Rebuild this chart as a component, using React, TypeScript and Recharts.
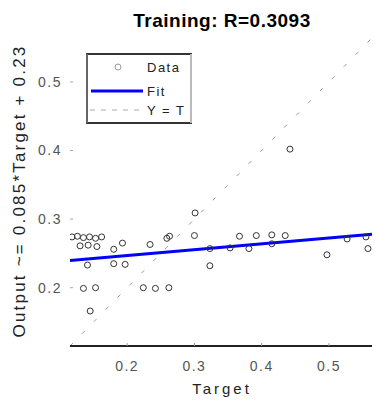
import { ComposedChart, Line, Scatter, XAxis, YAxis } from "recharts";

// regression scatter: target vs network output
const targets = [
  0.118, 0.126, 0.135, 0.144, 0.153, 0.162, 0.13, 0.142, 0.155, 0.193, 0.18,
  0.234, 0.259, 0.141, 0.18, 0.197, 0.135, 0.153, 0.224, 0.242, 0.262, 0.145,
  0.301, 0.263, 0.3, 0.367, 0.392, 0.415, 0.435, 0.323, 0.353, 0.381, 0.323,
  0.415, 0.527, 0.555, 0.558, 0.497, 0.442,
];
const outputs = [
  0.274, 0.275, 0.273, 0.274, 0.272, 0.274, 0.261, 0.262, 0.26, 0.265, 0.256,
  0.263, 0.272, 0.233, 0.235, 0.234, 0.199, 0.2, 0.2, 0.199, 0.2, 0.166, 0.309,
  0.275, 0.276, 0.275, 0.276, 0.277, 0.276, 0.257, 0.258, 0.257, 0.232, 0.264,
  0.271, 0.274, 0.257, 0.248, 0.402,
];

const fitTargets = [0.115, 0.564];
const fitOutputs = [0.2398, 0.2779];
const identityValues = [0.115, 0.564];

const axisTicks = [0.2, 0.3, 0.4, 0.5];
const axisDomain = [0.115, 0.564];

const title = "Training: R=0.3093";
const xTitle = "Target";
const yTitle = "Output ~= 0.085*Target + 0.23";
const legendNames = ["Data", "Fit", "Y = T"];

const points = targets.map((t, i) => ({ x: t, y: outputs[i] }));
const fitData = fitTargets.map((t, i) => ({ x: t, y: fitOutputs[i] }));
const identityData = identityValues.map((v) => ({ x: v, y: v }));

const W = 376;
const H = 403;

const ringShape = (props: any) => (
  <circle cx={props.cx} cy={props.cy} r={3} fill="none" stroke="#333" strokeWidth={1} />
);

export default function App() {
  return (
    <div
      style={{
        position: "absolute",
        left: 0,
        top: 0,
        width: W,
        height: H,
        background: "#fff",
        fontFamily: '"Liberation Sans", Arial, sans-serif',
        letterSpacing: "1.5px",
      }}
    >
      <ComposedChart width={W} height={H} margin={{ top: 37, right: 3, bottom: 0, left: 0 }}>
        <XAxis
          dataKey="x"
          type="number"
          domain={axisDomain}
          allowDataOverflow
          ticks={axisTicks}
          height={57}
          axisLine={{ stroke: "#222", strokeWidth: 2 }}
          tickLine={{ stroke: "#999" }}
          tickSize={-3}
          tickMargin={18}
          tick={{ fontSize: 14, fill: "#555" }}
        />
        <XAxis
          xAxisId="top"
          orientation="top"
          dataKey="x"
          type="number"
          domain={axisDomain}
          allowDataOverflow
          ticks={axisTicks}
          height={1}
          axisLine={false}
          tickLine={{ stroke: "#777" }}
          tickSize={-3}
          tick={false}
        />
        <YAxis
          type="number"
          domain={axisDomain}
          allowDataOverflow
          ticks={axisTicks}
          width={70}
          axisLine={false}
          tickLine={{ stroke: "#aaa" }}
          tickSize={-3}
          tickMargin={11}
          tick={{ fontSize: 14, fill: "#555" }}
        />
        <YAxis
          yAxisId="right"
          orientation="right"
          type="number"
          domain={axisDomain}
          allowDataOverflow
          ticks={axisTicks}
          width={1}
          axisLine={false}
          tickLine={{ stroke: "#aaa" }}
          tickSize={-3}
          tick={false}
        />
        <Line
          data={identityData}
          dataKey="y"
          type="linear"
          stroke="#999"
          strokeWidth={1}
          strokeDasharray="4 13"
          dot={false}
          isAnimationActive={false}
        />
        <Line
          data={fitData}
          dataKey="y"
          type="linear"
          stroke="#0000ff"
          strokeWidth={3}
          dot={false}
          isAnimationActive={false}
        />
        <Scatter data={points} dataKey="y" shape={ringShape} isAnimationActive={false} />
      </ComposedChart>

      {/* title, axis titles and legend drawn on top */}
      <svg
        width={W}
        height={H}
        style={{ position: "absolute", left: 0, top: 0, pointerEvents: "none" }}
      >
        <text x={222} y={27} textAnchor="middle" fontSize={19} fontWeight="bold" fill="#000" letterSpacing={0.5}>
          {title}
        </text>
        <text x={222} y={394} textAnchor="middle" fontSize={15} fill="#222" letterSpacing={3}>
          {xTitle}
        </text>
        <text
          transform="rotate(-90)"
          x={-191}
          y={25}
          textAnchor="middle"
          fontSize={17}
          fill="#222"
          letterSpacing={2.2}
        >
          {yTitle}
        </text>

        <rect x={87} y={54} width={104} height={69} fill="#fff" />
        <line x1={86} y1={54} x2={192} y2={54} stroke="#333" strokeWidth={2} />
        <line x1={86} y1={123} x2={192} y2={123} stroke="#333" strokeWidth={2} />
        <line x1={87} y1={54} x2={87} y2={123} stroke="#666" strokeWidth={2} />
        <line x1={191} y1={54} x2={191} y2={123} stroke="#bbb" strokeWidth={2} />

        <circle cx={118} cy={67} r={3} fill="none" stroke="#999" />
        <text x={147} y={72} fontSize={13} fill="#222" letterSpacing={1.5}>
          {legendNames[0]}
        </text>
        <line x1={91} y1={91} x2={143} y2={91} stroke="#0000ff" strokeWidth={3} />
        <text x={147} y={96} fontSize={13} fill="#222" letterSpacing={1.5}>
          {legendNames[1]}
        </text>
        <line x1={90} y1={110} x2={143} y2={110} stroke="#aaa" strokeDasharray="5 6" />
        <text x={147} y={115} fontSize={13} fill="#222" letterSpacing={1.5}>
          {legendNames[2]}
        </text>
      </svg>
    </div>
  );
}
